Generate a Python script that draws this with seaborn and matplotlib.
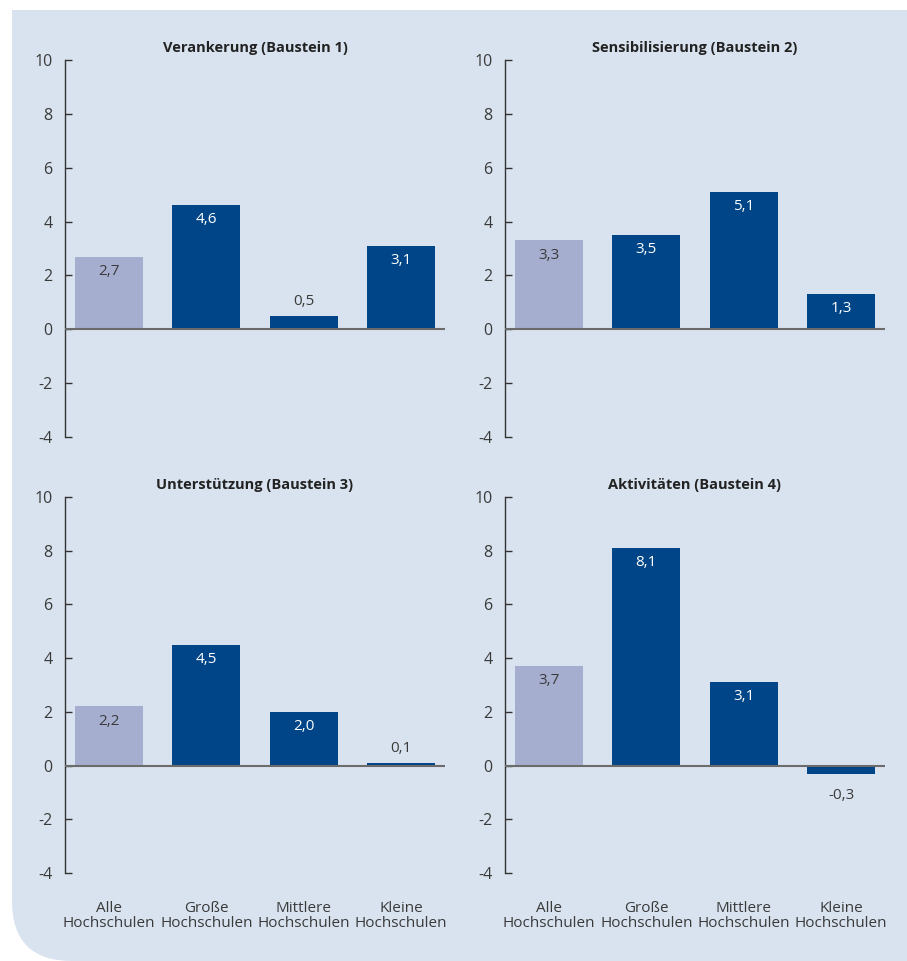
import matplotlib
matplotlib.use("Agg")
import matplotlib.pyplot as plt
import seaborn as sns
import pandas as pd
from matplotlib.patches import FancyBboxPatch, Rectangle
from matplotlib.transforms import IdentityTransform

categories = ["Alle\nHochschulen", "Große\nHochschulen", "Mittlere\nHochschulen", "Kleine\nHochschulen"]
titles = ["Verankerung (Baustein 1)", "Sensibilisierung (Baustein 2)",
          "Unterstützung (Baustein 3)", "Aktivitäten (Baustein 4)"]
baustein1 = [2.7, 4.6, 0.5, 3.1]
baustein2 = [3.3, 3.5, 5.1, 1.3]
baustein3 = [2.2, 4.5, 2.0, 0.1]
baustein4 = [3.7, 8.1, 3.1, -0.3]
series = [baustein1, baustein2, baustein3, baustein4]
yticks = [-4, -2, 0, 2, 4, 6, 8, 10]

LIGHT = "#a6aed0"
DARK = "#004587"
BG = "#d9e3ef"
TXT = "#3a3a3a"

sns.set_theme(style="white")
plt.rcParams["font.family"] = ["Open Sans", "DejaVu Sans"]

W, H = 907, 961
fig = plt.figure(figsize=(W / 100, H / 100), dpi=100)
fig.patch.set_facecolor("white")

# background panel with rounded bottom-left corner
bg = FancyBboxPatch((12, 0), W + 200, H + 300,
                    boxstyle="round,pad=0,rounding_size=60",
                    transform=IdentityTransform(), facecolor=BG, edgecolor="none", zorder=-10)
fig.patches.append(bg)
fig.patches.append(Rectangle((0, H - 10), W + 10, 20, transform=IdentityTransform(),
                             facecolor="white", edgecolor="none", zorder=-9))

positions = [
    (65, 60, 445, 437),
    (505, 60, 885, 437),
    (65, 497, 445, 873),
    (505, 497, 885, 873),
]

for i, (vals, title, (x0, y0, x1, y1)) in enumerate(zip(series, titles, positions)):
    ax = fig.add_axes([x0 / W, 1 - y1 / H, (x1 - x0) / W, (y1 - y0) / H])
    ax.set_facecolor("none")
    df = pd.DataFrame({"cat": categories, "val": vals})
    sns.barplot(data=df, x="cat", y="val", hue="cat",
                palette=[LIGHT, DARK, DARK, DARK], legend=False,
                width=0.7, saturation=1, linewidth=0, edgecolor="none", ax=ax, zorder=2)
    ax.set_xlim(-0.45, 3.45)
    ax.set_ylim(-4, 10)
    ax.set_yticks(yticks)
    ax.set_yticklabels([str(t) for t in yticks])
    ax.axhline(0, color="#6b6b6b", lw=1.5, zorder=3)
    for s in ["top", "right", "bottom"]:
        ax.spines[s].set_visible(False)
    ax.spines["left"].set_color("#333333")
    ax.spines["left"].set_linewidth(1.0)
    ax.tick_params(axis="y", direction="in", length=5, width=1.0, color="#333333",
                   labelsize=11.5, labelcolor=TXT, pad=9, left=True)
    ax.tick_params(axis="x", length=0, labelsize=11, labelcolor=TXT, pad=20)
    ax.set_xlabel("")
    ax.set_ylabel("")
    if i < 2:
        ax.set_xticklabels([])
    else:
        ax.set_xticks(range(4))
        ax.set_xticklabels(categories, linespacing=1.0)
    ax.set_title(title, fontsize=10.5, fontweight="bold", color="#222222", pad=6)
    for j, v in enumerate(vals):
        txt = f"{v:.1f}".replace(".", ",")
        if abs(v) < 1:
            off = 10 if v >= 0 else -16
            ax.annotate(txt, (j, v), xytext=(0, off), textcoords="offset points",
                        ha="center", va="center", fontsize=11, color=TXT)
        else:
            col = TXT if j == 0 else "white"
            ax.annotate(txt, (j, v), xytext=(0, -10.5), textcoords="offset points",
                        ha="center", va="center", fontsize=11, color=col, zorder=4)
    ax.grid(False)

fig.savefig("out.png", dpi=100)
